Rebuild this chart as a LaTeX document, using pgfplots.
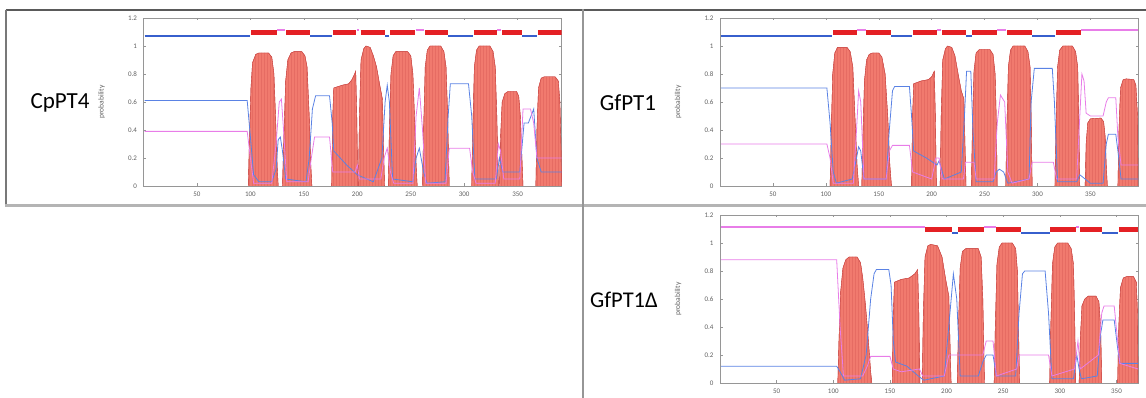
\documentclass[border=0pt]{standalone}
\usepackage{fontspec}
\setmainfont{Carlito}
\usepackage{pgfplots}
\pgfplotsset{compat=1.18}
\usetikzlibrary{patterns.meta}
\definecolor{tmfill}{RGB}{241,122,110}
\definecolor{tmedge}{RGB}{205,75,72}
\definecolor{topred}{RGB}{228,32,36}
\definecolor{inblue}{RGB}{90,130,228}
\definecolor{topblue}{RGB}{55,95,205}
\definecolor{outmag}{RGB}{232,125,232}
\definecolor{axgray}{RGB}{150,150,150}
\definecolor{lblgray}{RGB}{95,95,95}
\pgfplotsset{
  tm/.style={
    scale only axis, width=418pt, height=168pt, anchor=south west,
    xmin=0, ymin=0, ymax=1.2,
    axis line style={draw=axgray, line width=0.5pt},
    xtick={50,100,150,200,250,300,350},
    ytick={0,0.2,0.4,0.6,0.8,1,1.2},
    yticklabels={0,0.2,0.4,0.6,0.8,1,1.2},
    tick align=inside, major tick length=2.5pt,
    tick style={draw=axgray, line width=0.4pt},
    /pgf/number format/assume math mode=true,
    xticklabel style={font=\fontsize{7}{8}\selectfont, text=lblgray, yshift=-2pt},
    yticklabel style={font=\fontsize{7}{8}\selectfont, text=lblgray, xshift=-3pt},
    ylabel={probability},
    every axis y label/.style={at={(axis description cs:-0.1,0.5)}, rotate=90, anchor=center, font=\fontsize{7.5}{8}\selectfont, text=lblgray},
  },
  bump/.style={fill=tmfill, draw=tmedge, line width=0.4pt,
    postaction={pattern={Lines[angle=90,distance=3pt,line width=0.25pt]}, pattern color=tmedge!30!tmfill}},
  inl/.style={inblue, line width=0.8pt},
  outl/.style={outmag, line width=0.8pt},
  tin/.style={topblue, line width=2.4pt},
  ttm/.style={topred, line width=5pt},
  tout/.style={outmag, line width=2pt},
}
\begin{document}
\begin{tikzpicture}[x=1pt,y=1pt]
\path[use as bounding box] (0,0) rectangle (1146,398);
% frame lines
\draw[draw={rgb,255:red,90;green,90;blue,90}, line width=1.8pt] (5.7,388) -- (1146,388);
\draw[draw={rgb,255:red,120;green,120;blue,120}, line width=2pt] (5.7,388) -- (5.7,192);
\draw[draw={rgb,255:red,180;green,180;blue,180}, line width=3pt] (4.7,192) -- (1146,192);
\draw[draw={rgb,255:red,150;green,150;blue,150}, line width=2.5pt] (583,388.9) -- (583,0);
\node[font=\fontsize{23}{26}\selectfont] at (60,295) {CpPT4};
\node[font=\fontsize{23}{26}\selectfont] at (628,295) {GfPT1};
\node[font=\fontsize{22.5}{26}\selectfont] at (624,98) {GfPT1Δ};

% ================= CpPT4 =================
\begin{axis}[tm, at={(143.5pt,212pt)}, xmax=391]
\addplot[bump] coordinates {(98,0)(99,0.3)(100.5,0.7)(102,0.88)(105,0.94)(108,0.95)(117,0.95)(120,0.92)(122,0.8)(123.5,0.5)(125,0.15)(126,0)};
\addplot[bump] coordinates {(130,0)(131.5,0.4)(133,0.75)(135,0.9)(138,0.95)(141,0.96)(148,0.96)(151,0.93)(153,0.85)(155,0.5)(156.5,0.15)(157.5,0)};
\addplot[bump] coordinates {(176,0)(177,0.5)(178,0.70)(186,0.72)(192,0.73)(195,0.76)(197.5,0.80)(198.5,0.82)(199.5,0.5)(200.5,0)};
\addplot[bump] coordinates {(201,0)(202,0.5)(203.5,0.9)(206,0.98)(208,1.0)(212,0.99)(215,0.93)(218,0.85)(221,0.72)(223.5,0.62)(224.5,0.3)(225.5,0)};
\addplot[bump] coordinates {(229,0)(230,0.4)(231.5,0.8)(233.5,0.93)(236,0.96)(247,0.96)(250,0.93)(252,0.8)(253.5,0.5)(255,0.15)(256,0)};
\addplot[bump] coordinates {(261,0)(262,0.4)(263.5,0.85)(265.5,0.97)(268,1.0)(278,1.0)(281,0.96)(283,0.85)(284.5,0.5)(286,0)};
\addplot[bump] coordinates {(307,0)(308,0.4)(309.5,0.85)(311.5,0.97)(314,1.0)(324,1.0)(327,0.96)(329,0.85)(330.5,0.5)(332,0)};
\addplot[bump] coordinates {(333,0)(334,0.35)(335.5,0.6)(338,0.66)(341,0.675)(349,0.675)(351,0.64)(352.5,0.5)(354,0.2)(355,0)};
\addplot[bump] coordinates {(367,0)(368,0.4)(369.5,0.7)(372,0.77)(375,0.78)(385,0.78)(388,0.75)(389.5,0.6)(390.5,0.3)(391,0)};
\addplot[inl] coordinates {(1,0.61)(97,0.61)(100,0.35)(103,0.08)(108,0.03)(120,0.03)(124,0.12)(126,0.33)(128,0.35)(130,0.25)(133,0.05)(152,0.03)(155,0.2)(158,0.55)(161,0.645)(174,0.645)(176.5,0.45)(178,0.25)(190,0.15)(200,0.08)(215,0.03)(223,0.2)(226,0.6)(228,0.72)(230,0.6)(233,0.05)(252,0.03)(255,0.2)(258,0.27)(262,0.1)(265,0.02)(282,0.03)(285,0.5)(287,0.73)(304,0.73)(307,0.5)(310,0.05)(330,0.05)(333,0.2)(336,0.1)(352,0.1)(356,0.45)(360,0.45)(365,0.55)(368,0.2)(372,0.1)(391,0.1)};
\addplot[outl] coordinates {(1,0.39)(97,0.39)(100,0.2)(103,0.02)(120,0.02)(124,0.3)(127,0.6)(129,0.62)(131,0.4)(134,0.03)(154,0.03)(157,0.2)(160,0.35)(174,0.35)(177,0.1)(198,0.1)(200,0.15)(202,0.05)(222,0.05)(225,0.2)(228,0.27)(231,0.1)(234,0.02)(252,0.02)(255,0.5)(258,0.7)(261,0.4)(264,0.02)(283,0.02)(286,0.27)(305,0.27)(308,0.1)(311,0.02)(329,0.02)(332,0.3)(334,0.25)(337,0.05)(352,0.05)(355,0.55)(362,0.55)(365,0.45)(368,0.2)(372,0.2)(391,0.2)};
% topology
\addplot[tin] coordinates {(1,1.07)(100,1.07)};
\addplot[tin] coordinates {(156,1.07)(176,1.07)};
\addplot[tin] coordinates {(226,1.07)(230,1.07)};
\addplot[tin] coordinates {(285,1.07)(308,1.07)};
\addplot[tin] coordinates {(354.5,1.07)(368,1.07)};
\addplot[tout] coordinates {(125,1.115)(132,1.115)};
\addplot[tout] coordinates {(199.5,1.115)(202,1.115)};
\addplot[tout] coordinates {(254.5,1.115)(262,1.115)};
\addplot[tout] coordinates {(331,1.115)(334,1.115)};
\addplot[ttm] coordinates {(101,1.095)(125,1.095)};
\addplot[ttm] coordinates {(133,1.095)(156,1.095)};
\addplot[ttm] coordinates {(177,1.095)(199,1.095)};
\addplot[ttm] coordinates {(203,1.095)(226,1.095)};
\addplot[ttm] coordinates {(231,1.095)(254,1.095)};
\addplot[ttm] coordinates {(263,1.095)(285,1.095)};
\addplot[ttm] coordinates {(309,1.095)(331,1.095)};
\addplot[ttm] coordinates {(335,1.095)(354,1.095)};
\addplot[ttm] coordinates {(369,1.095)(391,1.095)};
\end{axis}

% ================= GfPT1 =================
\begin{axis}[tm, at={(720pt,212pt)}, xmax=395]
\addplot[bump] coordinates {(104,0)(105,0.35)(106.5,0.8)(108.5,0.95)(111,0.99)(120,0.99)(123,0.96)(125.5,0.85)(127.5,0.5)(129.5,0.15)(131,0)};
\addplot[bump] coordinates {(134,0)(135,0.35)(136.5,0.75)(138.5,0.9)(141,0.94)(144,0.95)(150,0.95)(153,0.92)(156,0.8)(158.5,0.5)(160.5,0.15)(162,0)};
\addplot[bump] coordinates {(181,0)(182,0.5)(183,0.73)(190,0.75)(197,0.76)(200,0.78)(202.5,0.82)(203.5,0.5)(204.5,0)};
\addplot[bump] coordinates {(208,0)(209,0.5)(210.5,0.9)(213,0.98)(215,1.0)(219,0.99)(222,0.93)(225,0.8)(228,0.68)(230.5,0.62)(231.5,0.3)(232.5,0)};
\addplot[bump] coordinates {(237.5,0)(238.5,0.4)(240,0.82)(242,0.95)(245,0.975)(255,0.975)(258,0.94)(260,0.8)(261,0.5)(262,0)};
\addplot[bump] coordinates {(270,0)(271,0.4)(272.5,0.85)(274.5,0.97)(277,1.0)(288,1.0)(291,0.96)(293,0.85)(294,0.5)(295,0)};
\addplot[bump] coordinates {(316.5,0)(317.5,0.4)(319,0.85)(321,0.97)(324,1.0)(333,1.0)(336,0.96)(338,0.85)(339,0.5)(340,0)};
\addplot[bump] coordinates {(345,0)(346,0.3)(347.5,0.45)(350,0.48)(360,0.485)(362.5,0.46)(364,0.35)(365,0.15)(366,0)};
\addplot[bump] coordinates {(376,0)(377,0.4)(378.5,0.7)(381,0.76)(384,0.765)(391,0.76)(393,0.72)(394.5,0.5)(395,0)};
\addplot[inl] coordinates {(1,0.70)(101,0.70)(104,0.45)(107,0.1)(110,0.02)(125,0.05)(129,0.2)(131,0.28)(133,0.25)(136,0.05)(157,0.05)(160,0.4)(163,0.68)(165,0.71)(179,0.71)(181,0.5)(183,0.25)(195,0.2)(205,0.15)(207,0.18)(212,0.05)(228,0.1)(231,0.5)(233,0.82)(237,0.82)(239,0.4)(242,0.03)(258,0.03)(261,0.1)(264,0.12)(268,0.1)(272,0.02)(292,0.05)(294,0.6)(297,0.84)(314,0.84)(316,0.6)(319,0.03)(337,0.03)(340,0.08)(345,0.05)(350,0.02)(362,0.02)(365,0.3)(367,0.37)(374,0.37)(376,0.25)(379,0.05)(395,0.05)};
\addplot[outl] coordinates {(1,0.30)(101,0.30)(104,0.2)(107,0.02)(126,0.02)(129,0.4)(131,0.68)(133,0.6)(136,0.05)(157,0.05)(160,0.25)(163,0.29)(179,0.29)(182,0.1)(200,0.05)(204,0.2)(207,0.2)(210,0.05)(230,0.05)(232,0.17)(240,0.17)(242,0.05)(259,0.05)(262,0.45)(265,0.65)(269,0.6)(272,0.1)(276,0.02)(292,0.05)(295,0.17)(315,0.17)(318,0.05)(337,0.05)(340,0.5)(342,0.8)(344,0.75)(346,0.52)(350,0.5)(362,0.5)(365,0.6)(367,0.63)(374,0.63)(376,0.35)(379,0.15)(395,0.15)};
\addplot[tin] coordinates {(1,1.07)(106,1.07)};
\addplot[tin] coordinates {(162,1.07)(181.5,1.07)};
\addplot[tin] coordinates {(232,1.07)(238,1.07)};
\addplot[tin] coordinates {(295,1.07)(317,1.07)};
\addplot[tout] coordinates {(129,1.115)(138,1.115)};
\addplot[tout] coordinates {(205,1.115)(209,1.115)};
\addplot[tout] coordinates {(262,1.115)(270.5,1.115)};
\addplot[tout] coordinates {(341.5,1.115)(395,1.115)};
\addplot[ttm] coordinates {(107,1.095)(129,1.095)};
\addplot[ttm] coordinates {(138,1.095)(162,1.095)};
\addplot[ttm] coordinates {(182,1.095)(205,1.095)};
\addplot[ttm] coordinates {(209.5,1.095)(232,1.095)};
\addplot[ttm] coordinates {(238.5,1.095)(262,1.095)};
\addplot[ttm] coordinates {(271,1.095)(295,1.095)};
\addplot[ttm] coordinates {(317.5,1.095)(341.5,1.095)};
\end{axis}

% ================= GfPT1 Delta =================
\begin{axis}[tm, at={(720pt,15pt)}, xmax=369]
\addplot[bump] coordinates {(104,0)(105,0.3)(106.5,0.65)(108.5,0.82)(111,0.88)(114,0.9)(121,0.9)(124,0.86)(126,0.75)(128.5,0.55)(131,0.3)(133,0.08)(134,0)};
\addplot[bump] coordinates {(152,0)(153,0.5)(154,0.72)(160,0.74)(167,0.75)(172,0.78)(174.5,0.81)(175.5,0.5)(176.5,0)};
\addplot[bump] coordinates {(178.5,0)(179.5,0.5)(181,0.9)(183.5,0.98)(186,0.99)(192,0.98)(196,0.9)(199,0.75)(202,0.62)(203,0.3)(204,0)};
\addplot[bump] coordinates {(209.5,0)(210.5,0.4)(212,0.82)(214,0.94)(217,0.96)(228,0.96)(230.5,0.9)(232,0.6)(233,0.2)(233.5,0)};
\addplot[bump] coordinates {(242,0)(243,0.4)(244.5,0.85)(246.5,0.97)(249,1.0)(258,1.0)(261,0.96)(262.5,0.8)(263.5,0.4)(264.5,0)};
\addplot[bump] coordinates {(291,0)(292,0.4)(293.5,0.85)(295.5,0.97)(298,1.0)(307,1.0)(310,0.96)(312,0.85)(313,0.5)(314,0)};
\addplot[bump] coordinates {(317,0)(318,0.3)(319.5,0.55)(322,0.6)(325,0.62)(332,0.62)(334.5,0.58)(336,0.4)(337,0)};
\addplot[bump] coordinates {(351,0)(352,0.4)(353.5,0.68)(356,0.75)(359,0.76)(365,0.76)(367.5,0.72)(368.5,0.5)(369,0)};
\addplot[inl] coordinates {(1,0.12)(103,0.12)(106,0.08)(110,0.02)(124,0.03)(129,0.2)(133,0.6)(136,0.78)(138,0.81)(149,0.81)(151,0.7)(153,0.3)(155,0.15)(165,0.12)(175,0.05)(180,0.02)(198,0.05)(203,0.5)(206,0.78)(209,0.6)(212,0.05)(228,0.05)(232,0.15)(235,0.2)(241,0.2)(244,0.05)(261,0.05)(264,0.5)(267,0.78)(269,0.80)(287,0.80)(290,0.5)(293,0.03)(312,0.03)(315,0.2)(317,0.1)(319,0.03)(333,0.05)(336,0.35)(338,0.45)(348,0.45)(351,0.25)(353,0.14)(369,0.14)};
\addplot[outl] coordinates {(1,0.88)(103,0.88)(106,0.4)(109,0.05)(126,0.05)(130,0.12)(133,0.19)(150,0.19)(153,0.1)(160,0.08)(176,0.1)(179,0.05)(198,0.05)(202,0.2)(232,0.2)(235,0.3)(241,0.3)(244,0.05)(262,0.1)(264,0.2)(290,0.2)(293,0.05)(313,0.1)(316,0.3)(318,0.1)(334,0.2)(337,0.5)(339,0.55)(348,0.55)(351,0.3)(353,0.14)(369,0.1)};
\addplot[tout] coordinates {(1,1.115)(181,1.115)};
\addplot[tout] coordinates {(233,1.115)(244,1.115)};
\addplot[tout] coordinates {(314,1.115)(317,1.115)};
\addplot[tin] coordinates {(205,1.07)(210,1.07)};
\addplot[tin] coordinates {(266,1.07)(291.5,1.07)};
\addplot[tin] coordinates {(337.5,1.07)(351.5,1.07)};
\addplot[ttm] coordinates {(181,1.095)(205,1.095)};
\addplot[ttm] coordinates {(210,1.095)(233,1.095)};
\addplot[ttm] coordinates {(244,1.095)(266,1.095)};
\addplot[ttm] coordinates {(291.5,1.095)(314,1.095)};
\addplot[ttm] coordinates {(317.5,1.095)(337.5,1.095)};
\addplot[ttm] coordinates {(352,1.095)(369,1.095)};
\end{axis}
\end{tikzpicture}
\end{document}
